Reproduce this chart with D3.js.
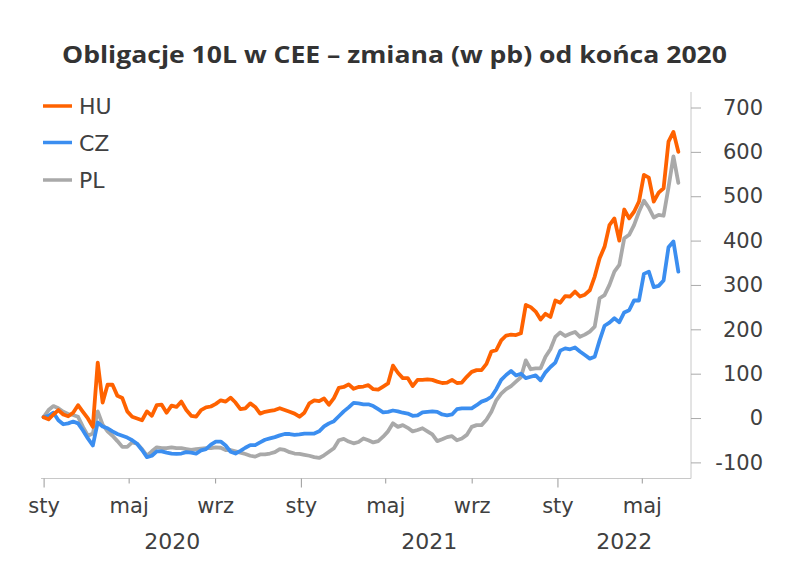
<!DOCTYPE html>
<html>
<head>
<meta charset="utf-8">
<script src="https://cdn.jsdelivr.net/npm/d3@7"></script>
<style>
  body { margin: 0; background: #fff; }
  svg { display: block; }
</style>
</head>
<body>
<div id="chart"></div>
<script>
// weekly readings, change in bp, starting 2020-01-01
const startDate = "2020-01-01";

const hu = [2, -3, 8, 18, 8, 4, 12, 29, 14, -1, -20, 125, 35, 75, 75, 50, 45, 15, 3, -1,
  -5, 15, 5, 29, 30, 12, 28, 25, 37, 18, 5, 3, 18, 24, 26, 32, 40, 37, 46, 35,
  20, 22, 33, 25, 10, 14, 16, 18, 22, 18, 14, 10, 3, 12, 33, 40, 38, 44, 30, 45,
  68, 70, 76, 66, 70, 71, 74, 65, 64, 71, 78, 118, 102, 90, 90, 72, 86, 86, 87, 86,
  82, 79, 80, 86, 79, 80, 93, 104, 108, 108, 122, 150, 153, 175, 186, 188, 187, 191, 255, 250,
  240, 222, 235, 228, 265, 260, 275, 274, 285, 274, 278, 288, 319, 360, 386, 435, 450, 400, 470, 450,
  465, 488, 548, 542, 488, 508, 518, 623, 645, 600];

const cz = [2, 5, 12, -5, -14, -12, -8, -12, -28, -46, -62, -10, -19, -23, -30, -36, -40, -44, -50, -58,
  -72, -88, -85, -75, -75, -78, -80, -81, -80, -77, -78, -80, -73, -70, -60, -53, -53, -62, -76, -80,
  -74, -67, -61, -61, -55, -49, -46, -43, -39, -36, -36, -38, -37, -35, -35, -35, -30, -19, -12, -7,
  4, 15, 24, 34, 33, 31, 31, 27, 20, 13, 14, 17, 15, 12, 10, 5, 6, 13, 14, 15,
  14, 8, 6, 8, 20, 22, 22, 22, 29, 37, 41, 48, 65, 86, 97, 106, 96, 100, 90, 93,
  96, 85, 103, 115, 125, 152, 157, 155, 159, 150, 142, 134, 138, 175, 208, 215, 225, 216, 238, 243,
  265, 265, 325, 330, 295, 298, 310, 385, 398, 330];

const pl = [2, 18, 27, 22, 14, 9, 7, 3, -20, -40, -35, 15, -15, -30, -40, -52, -65, -65, -55, -58,
  -70, -85, -75, -66, -68, -68, -66, -68, -68, -70, -72, -70, -69, -68, -68, -66, -67, -72, -72, -75,
  -78, -81, -85, -87, -82, -82, -80, -77, -70, -72, -77, -80, -81, -83, -85, -88, -90, -84, -76, -68,
  -50, -47, -53, -57, -54, -46, -50, -55, -52, -42, -30, -12, -20, -16, -22, -30, -27, -23, -30, -37,
  -52, -48, -43, -41, -50, -46, -38, -20, -16, -16, -4, 14, 40, 55, 65, 72, 82, 92, 130, 110,
  112, 112, 138, 155, 183, 193, 185, 190, 194, 183, 188, 195, 206, 270, 277, 300, 330, 345, 405, 413,
  435, 465, 490, 474, 452, 458, 456, 520, 590, 530];

const seriesNames = ["HU", "CZ", "PL"];
const yTicks = [-100, 0, 100, 200, 300, 400, 500, 600, 700];
const monthLabels = ["sty", "maj", "wrz"];
const years = [2020, 2021, 2022];

const colors = { HU: "#ff6200", CZ: "#3b8ef0", PL: "#a9a9a9" };

const W = 800, H = 564;
const svg = d3.select("#chart").append("svg")
    .attr("width", W)
    .attr("height", H);

const parse = d3.timeParse("%Y-%m-%d");
const t0 = parse(startDate);
const dates = hu.map((_, i) => d3.timeDay.offset(t0, i * 7));
const axisEnd = parse("2022-07-10");

const x = d3.scaleTime().domain([t0, axisEnd]).range([43.6, 691]);
const y = d3.scaleLinear().domain([-100, 700]).range([462.4, 107.5]);

const axisY = 478.5;
const axisColor = "#c8c8c8";

// title
svg.append("text")
    .attr("x", 394.5)
    .attr("y", 63)
    .attr("text-anchor", "middle")
    .attr("textLength", 665)
    .attr("lengthAdjust", "spacingAndGlyphs")
    .style("font-family", "'Open Sans', sans-serif")
    .style("font-weight", "700")
    .style("font-size", "24px")
    .style("fill", "#333")
    .text("Obligacje 10L w CEE – zmiana (w pb) od końca 2020");

// frame lines
svg.append("line")
    .attr("x1", 41).attr("x2", 691)
    .attr("y1", axisY).attr("y2", axisY)
    .style("stroke", axisColor).style("stroke-width", 1);
svg.append("line")
    .attr("x1", 691).attr("x2", 691)
    .attr("y1", 92).attr("y2", axisY)
    .style("stroke", axisColor).style("stroke-width", 1);

// right axis
const gy = svg.append("g")
    .attr("transform", "translate(691,0)")
    .call(d3.axisRight(y).tickValues(yTicks).tickSize(10).tickFormat(d => String(d)));
gy.select(".domain").remove();
gy.selectAll(".tick line").style("stroke", "#aaa");
gy.selectAll(".tick text")
    .attr("x", 72)
    .attr("text-anchor", "end")
    .style("font-family", "'DejaVu Sans', sans-serif")
    .style("font-size", "21px")
    .style("fill", "#404040");

// bottom axis
const tickDates = d3.timeMonth.every(4).range(t0, parse("2022-06-01"));
const gx = svg.append("g")
    .attr("transform", "translate(0," + axisY + ")")
    .call(d3.axisBottom(x).tickValues(tickDates)
        .tickFormat(d => monthLabels[d.getMonth() / 4]));
gx.select(".domain").remove();
gx.selectAll(".tick line")
    .attr("y2", d => d.getMonth() === 0 ? 9 : 5)
    .style("stroke", "#999");
gx.selectAll(".tick text")
    .attr("y", 34.5)
    .attr("dy", 0)
    .style("font-family", "'DejaVu Sans', sans-serif")
    .style("font-size", "21px")
    .style("fill", "#404040");

// year labels
svg.selectAll(".year")
    .data(years)
    .enter().append("text")
    .attr("class", "year")
    .attr("x", d => {
      const a = x(new Date(d, 0, 1));
      const b = d === 2022 ? x(axisEnd) : x(new Date(d + 1, 0, 1));
      return (a + b) / 2;
    })
    .attr("y", 549)
    .attr("text-anchor", "middle")
    .style("font-family", "'DejaVu Sans', sans-serif")
    .style("font-size", "22px")
    .style("fill", "#404040")
    .text(d => d);

// series
const seriesData = { HU: hu, CZ: cz, PL: pl };
const line = d3.line()
    .x((d, i) => x(dates[i]))
    .y(d => y(d));

["PL", "CZ", "HU"].forEach(name => {
  svg.append("path")
      .datum(seriesData[name])
      .attr("d", line)
      .style("fill", "none")
      .style("stroke", colors[name])
      .style("stroke-width", 3.8)
      .style("stroke-linejoin", "round")
      .style("stroke-linecap", "round");
});

// legend
const legendY = [106, 142.5, 180];
const legend = svg.selectAll(".legend")
    .data(seriesNames)
    .enter().append("g")
    .attr("class", "legend")
    .attr("transform", (d, i) => "translate(43," + legendY[i] + ")");
legend.append("line")
    .attr("x1", 0).attr("x2", 29)
    .style("stroke", d => colors[d])
    .style("stroke-width", 3.5);
legend.append("text")
    .attr("x", 36)
    .attr("y", 8)
    .style("font-family", "'DejaVu Sans', sans-serif")
    .style("font-size", "22px")
    .style("fill", "#404040")
    .text(d => d);
</script>
</body>
</html>
